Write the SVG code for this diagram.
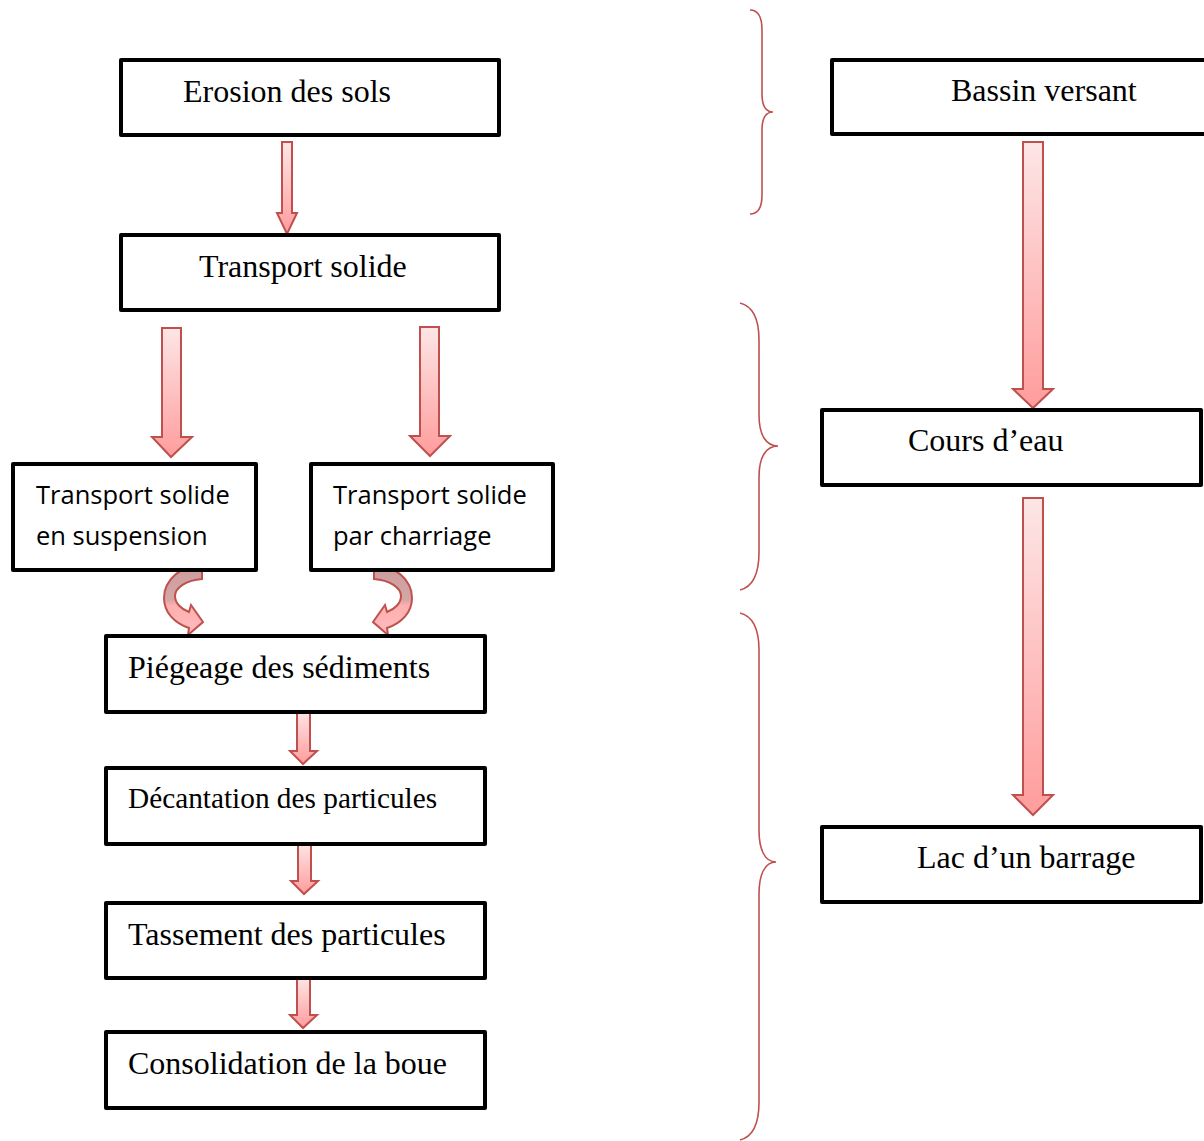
<svg xmlns="http://www.w3.org/2000/svg" width="1204" height="1141" viewBox="0 0 1204 1141">
<style>
.box{fill:#fff;stroke:#000;stroke-width:4;stroke-linejoin:round}
.t{font-family:"Liberation Serif","Times New Roman",serif;font-size:32px;fill:#000}
.s{font-family:"Open Sans","Liberation Sans",sans-serif;font-size:25.5px;fill:#000}
.arr{fill:url(#ag);stroke:#c0504d;stroke-width:2;stroke-linejoin:miter}
.carr{fill:url(#cg);stroke:#c0504d;stroke-width:2;stroke-linejoin:miter}
.brace{fill:none;stroke:#c0504d;stroke-width:1.6}
</style>
<defs>
<linearGradient id="ag" x1="0" y1="0" x2="0" y2="1">
<stop offset="0" stop-color="#fde6e6"/>
<stop offset="1" stop-color="#ff9c9c"/>
</linearGradient>
<linearGradient id="cg" gradientUnits="userSpaceOnUse" x1="0" y1="565" x2="0" y2="635">
<stop offset="0" stop-color="#c99c9c"/>
<stop offset="0.5" stop-color="#d6a6a6"/>
<stop offset="0.58" stop-color="#ffafaf"/>
<stop offset="1" stop-color="#ffbcbc"/>
</linearGradient>
</defs>

<g id="connectors">
<path class="arr" d="M282,142 H292 V213 H297 L287,234 L277,213 H282 Z"/>
<path class="arr" d="M162,328 H181 V437 H192 L171,457 L152,437 H162 Z"/>
<path class="arr" d="M420,327 H439 V436 H450 L430,456 L410,436 H420 Z"/>
<path class="arr" d="M1023,142 H1043 V389 H1053 L1033,408 L1013,389 H1023 Z"/>
<path class="arr" d="M1023,498 H1043 V795 H1053 L1033,815 L1013,795 H1023 Z"/>
<path class="arr" d="M297,710 H310 V751 H317 L303,764 L290,751 H297 Z"/>
<path class="arr" d="M298,843 H311 V881 H318 L304,894 L291,881 H298 Z"/>
<path class="arr" d="M297,977 H310 V1015 H317 L303,1028 L290,1015 H297 Z"/>
<path id="curve-left" class="carr" d="M202,565 L202,579 C186,580 175,588 175,596 C175,603 181,609 189,612 L191,605 L203,622 L188,635 L189,628 C174,623 164,612 164,598 C164,580 181,565 202,565 Z"/>
<path id="curve-right" class="carr" transform="translate(576,0) scale(-1,1)" d="M202,565 L202,579 C186,580 175,588 175,596 C175,603 181,609 189,612 L191,605 L203,622 L188,635 L189,628 C174,623 164,612 164,598 C164,580 181,565 202,565 Z"/>
</g>

<g id="braces">
<path class="brace" d="M750,10 C758,10 762,16 762,30 L762,94 C762,106 766,112 773,112 C766,112 762,118 762,130 L762,195 C762,208 758,214 750,214"/>
<path class="brace" d="M740,303 C752,306 759,318 759,340 L759,415 C759,435 766,446 778,446 C766,446 759,457 759,477 L759,552 C759,574 752,587 740,590"/>
<path class="brace" d="M740,613 C752,616 759,628 759,650 L759,830 C759,850 765,862 776,862 C765,862 759,874 759,894 L759,1102 C759,1124 752,1137 740,1140"/>
</g>

<g id="n-erosion"><rect class="box" x="121" y="60" width="378" height="75"/><text class="t" x="183" y="102">Erosion des sols</text></g>
<g id="n-transport"><rect class="box" x="121" y="235" width="378" height="75"/><text class="t" x="199" y="277">Transport solide</text></g>
<g id="n-suspension"><rect class="box" x="13" y="464" width="243" height="106"/><text class="s" x="36" y="504">Transport solide</text><text class="s" x="36" y="545">en suspension</text></g>
<g id="n-charriage"><rect class="box" x="311" y="464" width="242" height="106"/><text class="s" x="333" y="504">Transport solide</text><text class="s" x="333" y="545">par charriage</text></g>
<g id="n-piegeage"><rect class="box" x="106" y="636" width="379" height="76"/><text class="t" x="128" y="678">Piégeage des sédiments</text></g>
<g id="n-decantation"><rect class="box" x="106" y="768" width="379" height="76"/><text class="t" x="128" y="808" style="font-size:29.3px">Décantation des particules</text></g>
<g id="n-tassement"><rect class="box" x="106" y="903" width="379" height="75"/><text class="t" x="128" y="945">Tassement des particules</text></g>
<g id="n-consolidation"><rect class="box" x="106" y="1032" width="379" height="76"/><text class="t" x="128" y="1074">Consolidation de la boue</text></g>
<g id="n-bassin"><rect class="box" x="832" y="60" width="380" height="74"/><text class="t" x="951" y="101">Bassin versant</text></g>
<g id="n-cours"><rect class="box" x="822" y="410" width="379" height="75"/><text class="t" x="908" y="451">Cours d’eau</text></g>
<g id="n-lac"><rect class="box" x="822" y="827" width="379" height="75"/><text class="t" x="917" y="868">Lac d’un barrage</text></g>
</svg>
